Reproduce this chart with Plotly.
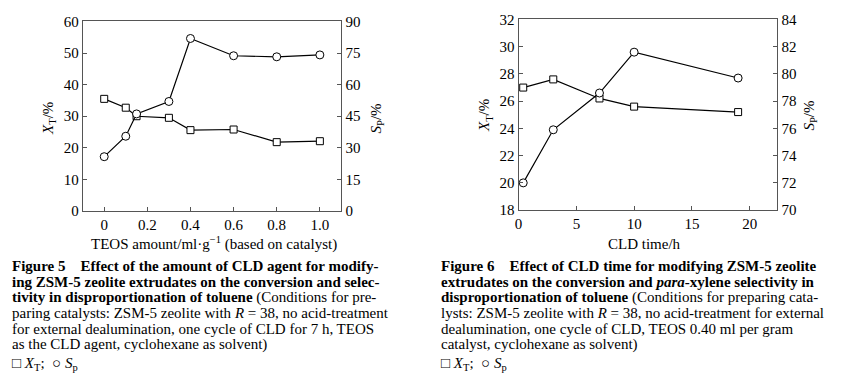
import plotly.graph_objects as go

W, H = 864, 379

# ---- Data: Figure 5 ----
teos = [0, 0.1, 0.15, 0.3, 0.4, 0.6, 0.8, 1.0]
xt5 = [35.5, 32.7, 30.0, 29.5, 25.6, 25.8, 21.8, 22.1]
sp5 = [25.8, 35.5, 46.1, 52.0, 81.9, 73.7, 73.2, 74.1]
x5_ticks = [0, 0.2, 0.4, 0.6, 0.8, 1.0]
x5_labels = ["0", "0.2", "0.4", "0.6", "0.8", "1.0"]

# ---- Data: Figure 6 ----
cld_time = [0.4, 3, 7, 10, 19]
xt6 = [27.0, 27.6, 26.2, 25.6, 25.2]
sp6 = [72.0, 75.9, 78.6, 81.6, 79.7]

caption5 = [
    "<b>Figure 5\u2003Effect of the amount of CLD agent for modify-</b>",
    "<b>ing ZSM-5 zeolite extrudates on the conversion and selec-</b>",
    "<b>tivity in disproportionation of toluene</b> (Conditions for pre-",
    "paring catalysts: ZSM-5 zeolite with <i>R</i> = 38, no acid-treatment",
    "for external dealumination, one cycle of CLD for 7 h, TEOS",
    "as the CLD agent, cyclohexane as solvent)",
    "\u25a1 <i>X</i><sub>T</sub>;  \u25cb <i>S</i><sub>p</sub>",
]
caption6 = [
    "<b>Figure 6\u2003Effect of CLD time for modifying ZSM-5 zeolite</b>",
    "<b>extrudates on the conversion and <i>para</i>-xylene selectivity in</b>",
    "<b>disproportionation of toluene</b> (Conditions for preparing cata-",
    "lysts: ZSM-5 zeolite with <i>R</i> = 38, no acid-treatment for external",
    "dealumination, one cycle of CLD, TEOS 0.40 ml per gram",
    "catalyst, cyclohexane as solvent)",
    "\u25a1 <i>X</i><sub>T</sub>;  \u25cb <i>S</i><sub>p</sub>",
]

FONT = "Liberation Serif"
AX = "#555555"


def px(x):
    return x / W


def py(y):
    return 1 - y / H


fig = go.Figure()

line = dict(color="black", width=1.2)
sq = dict(symbol="square", size=7, color="white", line=dict(color="black", width=1))
ci = dict(symbol="circle", size=8, color="white", line=dict(color="black", width=1))

fig.add_trace(go.Scatter(x=teos, y=xt5, mode="lines+markers", line=line, marker=sq,
                         xaxis="x", yaxis="y", showlegend=False, cliponaxis=False))
fig.add_trace(go.Scatter(x=teos, y=sp5, mode="lines+markers", line=line, marker=ci,
                         xaxis="x", yaxis="y2", showlegend=False, cliponaxis=False))
fig.add_trace(go.Scatter(x=cld_time, y=xt6, mode="lines+markers", line=line, marker=sq,
                         xaxis="x2", yaxis="y3", showlegend=False, cliponaxis=False))
fig.add_trace(go.Scatter(x=cld_time, y=sp6, mode="lines+markers", line=line, marker=ci,
                         xaxis="x2", yaxis="y4", showlegend=False, cliponaxis=False))

tickfont = dict(family=FONT, size=15, color="black")
common = dict(showline=True, linecolor=AX, linewidth=1, ticks="inside", ticklen=4,
              tickcolor=AX, tickwidth=1, showgrid=False, zeroline=False,
              tickfont=tickfont, fixedrange=True)

fig.update_layout(
    width=W, height=H,
    margin=dict(l=0, r=0, t=0, b=0),
    paper_bgcolor="white", plot_bgcolor="white",
    font=dict(family=FONT, size=15, color="black"),
    xaxis=dict(domain=[px(79), px(339)], range=[-0.1, 1.1], tickvals=x5_ticks,
               ticktext=x5_labels, anchor="y", mirror=True, **common),
    yaxis=dict(domain=[py(212), py(14)], range=[0, 60], dtick=10, anchor="x", **common),
    yaxis2=dict(range=[0, 90], dtick=15, overlaying="y", side="right", anchor="x", **common),
    xaxis2=dict(domain=[px(517), px(777)], range=[0, 22.4], dtick=5, anchor="y3",
                mirror=True, **common),
    yaxis3=dict(domain=[py(211), py(12)], range=[18, 32], dtick=2, anchor="x2", **common),
    yaxis4=dict(range=[70, 84], dtick=2, overlaying="y3", side="right", anchor="x2", **common),
)

ann = []
tf = dict(family=FONT, size=15, color="black")


def title(x, y, text, angle=0):
    ann.append(dict(x=px(x), y=py(y), text=text, textangle=angle, xanchor="center",
                    yanchor="middle", showarrow=False, font=tf, xref="paper", yref="paper"))


title(211, 246, "TEOS amount/ml\u00b7g<sup>\u22121</sup> (based on catalyst)")
title(643, 246, "CLD time/h")
title(45, 115, "<i>X</i><sub>T</sub>/%", -90)
title(375, 115, "<i>S</i><sub>P</sub>/%", -90)
title(484, 112, "<i>X</i><sub>T</sub>/%", -90)
title(810, 112, "<i>S</i><sub>P</sub>/%", -90)

cf = dict(family=FONT, size=15, color="black")
ys = [269.5 + i * 16.4 for i in range(6)] + [372]
for t, y in zip(caption5, ys):
    ann.append(dict(x=px(6), y=py(y), text=t, xanchor="left", yanchor="middle",
                    showarrow=False, font=cf, xref="paper", yref="paper"))
for t, y in zip(caption6, ys):
    ann.append(dict(x=px(437), y=py(y), text=t, xanchor="left", yanchor="middle",
                    showarrow=False, font=cf, xref="paper", yref="paper"))

fig.update_layout(annotations=ann)
fig.write_html(
    "out.html",
    config={"displayModeBar": False},
    post_script="document.body.style.margin='0';document.body.style.overflow='hidden';",
)
